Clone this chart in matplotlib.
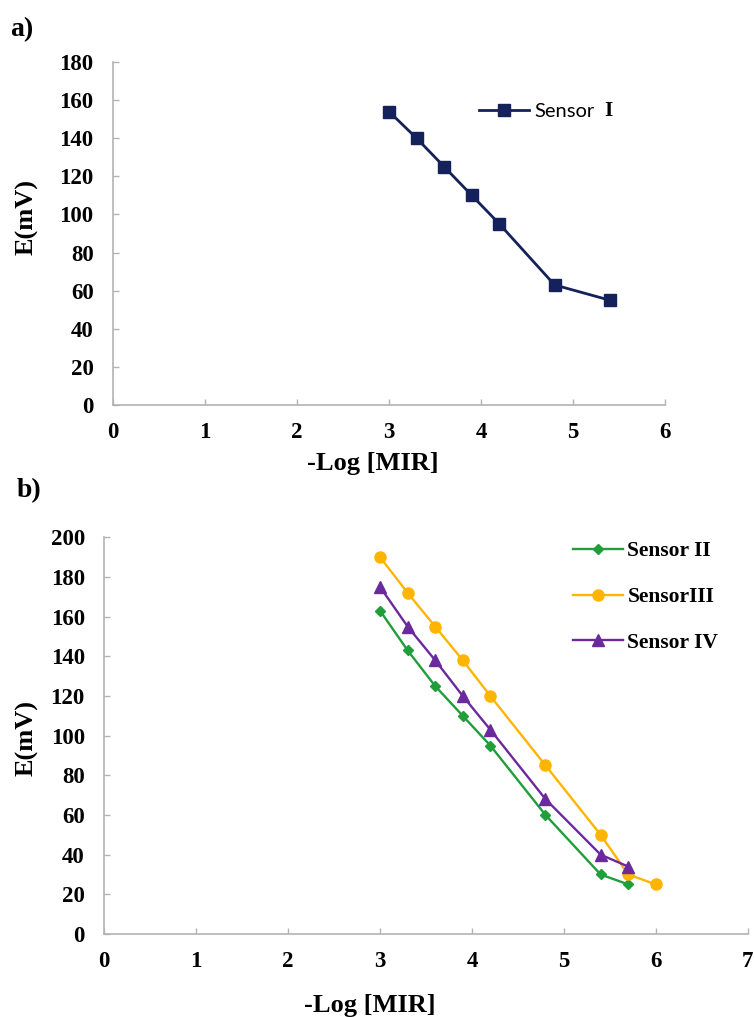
import matplotlib
matplotlib.use("Agg")
import matplotlib.pyplot as plt

# ---- data ----
x_a = [3.0, 3.3, 3.6, 3.9, 4.2, 4.8, 5.4]
sensor_I = [154, 140, 125, 110, 95, 63, 55]

x_b = [3.0, 3.3, 3.6, 3.9, 4.2, 4.8, 5.4, 5.7]
sensor_II = [163, 143, 125, 110, 95, 60, 30, 25]
x_b3 = [3.0, 3.3, 3.6, 3.9, 4.2, 4.8, 5.4, 5.7, 6.0]
sensor_III = [190, 172, 155, 138, 120, 85, 50, 30, 25]
sensor_IV = [175, 155, 138, 120, 103, 68, 40, 34]

xticks_a = [0, 1, 2, 3, 4, 5, 6]
yticks_a = [0, 20, 40, 60, 80, 100, 120, 140, 160, 180]
xticks_b = [0, 1, 2, 3, 4, 5, 6, 7]
yticks_b = [0, 20, 40, 60, 80, 100, 120, 140, 160, 180, 200]

SERIF = "Liberation Serif"
spine_col = "#b3b3b3"

fig = plt.figure(figsize=(7.54, 10.17), dpi=100)

def style(ax, xt, yt):
    ax.set_xlim(xt[0], xt[-1])
    ax.set_ylim(yt[0], yt[-1])
    ax.set_xticks(xt)
    ax.set_yticks(yt)
    for s in ["top", "right"]:
        ax.spines[s].set_visible(False)
    for s in ["left", "bottom"]:
        ax.spines[s].set_color(spine_col)
        ax.spines[s].set_linewidth(1.2)
    ax.tick_params(axis="both", direction="in", length=4, width=1.0,
                   color=spine_col, labelsize=16.5)
    ax.tick_params(axis="x", pad=12)
    ax.tick_params(axis="y", pad=14)
    for lab in ax.get_xticklabels() + ax.get_yticklabels():
        lab.set_fontfamily(SERIF)
        lab.set_fontweight("bold")

# ---- panel a ----
axa = fig.add_axes([113/754, 1-405/1017, (665-113)/754, (405-62)/1017])
style(axa, xticks_a, yticks_a)
axa.plot(x_a, sensor_I, color="#14215a", lw=2.0, marker="s", ms=8,
         label="Sensor", clip_on=False)
axa.set_xlabel("-Log [MIR]", fontfamily=SERIF, fontweight="bold",
               fontsize=19, va="center")
axa.xaxis.set_label_coords(0.471, -0.172)
axa.set_ylabel("E(mV)", fontfamily=SERIF, fontweight="bold",
               fontsize=19, va="center")
axa.yaxis.set_label_coords(-0.156, 0.548)
lega = axa.legend(loc="center left", bbox_to_anchor=(0.663, 0.857),
                  frameon=False, borderpad=0, borderaxespad=0,
                  handlelength=2.5, handletextpad=0.25,
                  prop={"family": "Lato", "size": 14.5})

# ---- panel b ----
axb = fig.add_axes([104.3/754, 1-934/1017, (747.7-104.3)/754, (934-537.3)/1017])
style(axb, xticks_b, yticks_b)
axb.plot(x_b, sensor_II, color="#1f9e3a", lw=1.7, marker="D", ms=5.5,
         label="Sensor II", clip_on=False)
axb.plot(x_b3, sensor_III, color="#ffb500", lw=1.7, marker="o", ms=8,
         label="SensorIII", clip_on=False)
axb.plot(x_b, sensor_IV, color="#6a2a9e", lw=1.7, marker="^", ms=8,
         label="Sensor IV", clip_on=False)
axb.set_xlabel("-Log [MIR]", fontfamily=SERIF, fontweight="bold",
               fontsize=19, va="center")
axb.xaxis.set_label_coords(0.413, -0.179)
axb.set_ylabel("E(mV)", fontfamily=SERIF, fontweight="bold",
               fontsize=19, va="center")
axb.yaxis.set_label_coords(-0.120, 0.495)
axb.legend(loc="center left", bbox_to_anchor=(0.7285, 0.8495),
           frameon=False, borderpad=0, borderaxespad=0,
           handlelength=2.3, handletextpad=0.23, labelspacing=1.2,
           prop={"family": SERIF, "weight": "bold", "size": 15.5})

# panel letters
fig.text(10/754, 1-30/1017, "a)", fontfamily=SERIF, fontweight="bold",
         fontsize=20, va="center", ha="left")
fig.text(17/754, 1-491/1017, "b)", fontfamily=SERIF, fontweight="bold",
         fontsize=20, va="center", ha="left")

# roman numeral after "Sensor" in legend a
fig.canvas.draw()
bb = lega.get_texts()[0].get_window_extent()
inv = fig.transFigure.inverted()
(x1, y0), (_, y1) = inv.transform([[bb.x1, bb.y0], [bb.x1, bb.y1]])
fig.text(x1 + 10/754, (y0 + y1) / 2, "I", fontfamily=SERIF,
         fontweight="bold", fontsize=15.5, va="center", ha="left")

fig.savefig("out.png", dpi=100)
